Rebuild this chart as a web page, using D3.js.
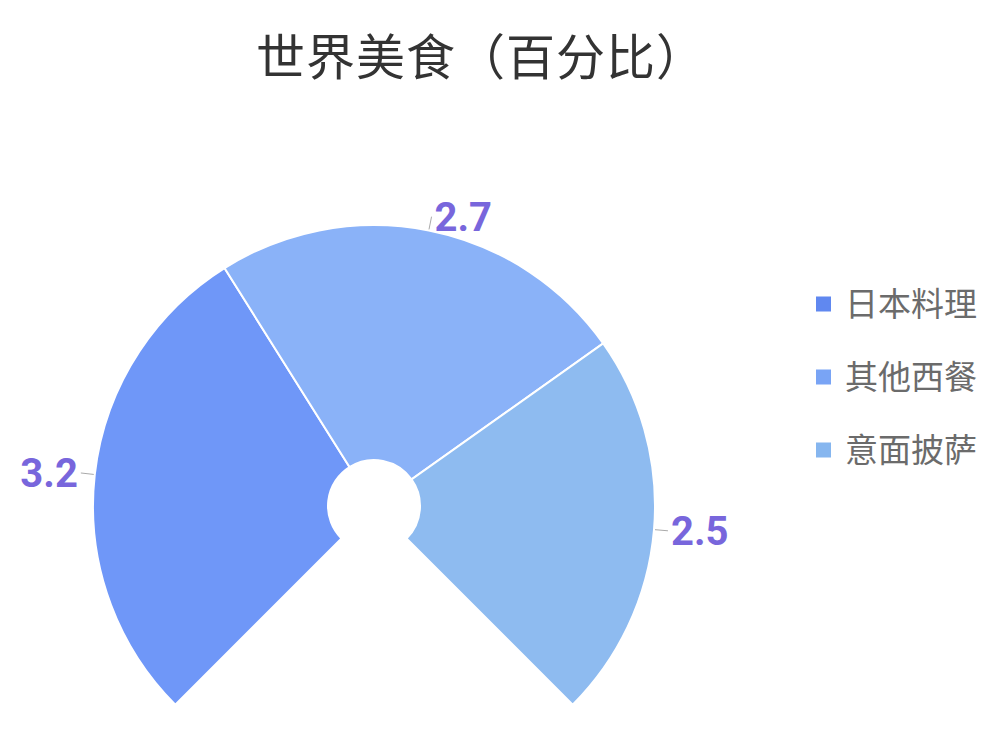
<!DOCTYPE html>
<html>
<head>
<meta charset="utf-8">
<script src="https://cdn.jsdelivr.net/npm/d3@7"></script>
<style>
  body { margin: 0; background: #fff; }
  svg { display: block; }
</style>
</head>
<body>
<svg id="chart" width="1000" height="733"></svg>
<script>
// data
var categories = ['日本料理', '其他西餐', '意面披萨'];
var values = [3.2, 2.7, 2.5];
var colors = ['#6f97f8', '#8ab2f8', '#8ebbf0'];
var legendColors = ['#6088f0', '#79a4f5', '#86b6ef'];
var title = '世界美食（百分比）';

var W = 1000, H = 733;
var cx = 374, cy = 506, r0 = 46, r1 = 281;

var svg = d3.select('#chart');

svg.append('text')
    .attr('x', 481)
    .attr('y', 75)
    .attr('text-anchor', 'middle')
    .style('font-family', '"Noto Sans CJK SC", sans-serif')
    .style('font-size', '49px')
    .style('letter-spacing', '1px')
    .style('fill', '#333')
    .text(title);

var rows = categories.map(function(c, i) { return { name: c, value: values[i], i: i }; });

var pie = d3.pie()
    .sort(null)
    .value(function(d) { return d.value; })
    .startAngle(-3 * Math.PI / 4)
    .endAngle(3 * Math.PI / 4);

var arc = d3.arc().innerRadius(r0).outerRadius(r1);

var g = svg.append('g').attr('transform', 'translate(' + cx + ',' + cy + ')');
var arcs = pie(rows);

g.selectAll('path')
    .data(arcs)
  .enter().append('path')
    .attr('d', arc)
    .attr('fill', function(d) { return colors[d.data.i]; })
    .attr('stroke', '#fff')
    .attr('stroke-width', 2);

// label leader lines and values
function polar(a, r) { return [Math.sin(a) * r, -Math.cos(a) * r]; }
function mid(d) { return (d.startAngle + d.endAngle) / 2; }

var lab = g.selectAll('g.lab')
    .data(arcs)
  .enter().append('g')
    .attr('class', 'lab');

lab.append('line')
    .attr('x1', function(d) { return polar(mid(d), r1 + 1)[0]; })
    .attr('y1', function(d) { return polar(mid(d), r1 + 1)[1]; })
    .attr('x2', function(d) { return polar(mid(d), r1 + 14)[0]; })
    .attr('y2', function(d) { return polar(mid(d), r1 + 14)[1]; })
    .attr('stroke', '#aaa')
    .attr('stroke-width', 1);

lab.append('text')
    .attr('x', function(d) {
      var a = mid(d), p = polar(a, r1 + 14);
      return p[0] + (Math.sin(a) >= 0 ? 3 : -3);
    })
    .attr('y', function(d) { return polar(mid(d), r1 + 14)[1]; })
    .attr('dy', '0.35em')
    .attr('text-anchor', function(d) { return Math.sin(mid(d)) >= 0 ? 'start' : 'end'; })
    .style('font-family', 'Roboto, "Noto Sans", sans-serif')
    .style('font-weight', 'bold')
    .style('font-size', '40px')
    .style('fill', '#7866dc')
    .text(function(d) { return d.data.value; });

// legend
var legend = svg.append('g').attr('transform', 'translate(816,304)');
var item = legend.selectAll('g')
    .data(rows)
  .enter().append('g')
    .attr('transform', function(d, i) { return 'translate(0,' + i * 73 + ')'; });

item.append('rect')
    .attr('x', 0)
    .attr('y', -7.5)
    .attr('width', 15)
    .attr('height', 15)
    .attr('fill', function(d) { return legendColors[d.i]; });

item.append('text')
    .attr('x', 29)
    .attr('y', 0)
    .attr('dy', '0.36em')
    .style('font-family', '"Noto Sans CJK SC", sans-serif')
    .style('font-size', '33px')
    .style('fill', '#6b6b6b')
    .text(function(d) { return d.name; });
</script>
</body>
</html>
